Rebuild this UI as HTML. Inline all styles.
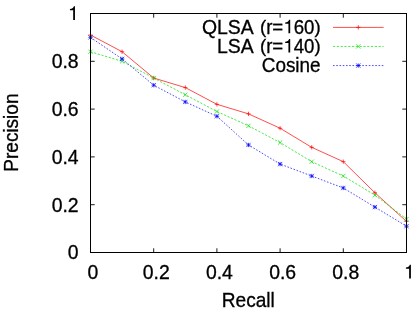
<!DOCTYPE html>
<html><head><meta charset="utf-8"><title>Precision-Recall</title>
<style>html,body{margin:0;padding:0;background:#fff;}svg{display:block;will-change:transform;}text{font-family:"Liberation Sans",sans-serif;fill:#000;stroke:#000;stroke-width:0.3px;}</style></head><body>
<svg width="415" height="313" viewBox="0 0 415 313">
<rect x="0" y="0" width="415" height="313" fill="#ffffff"/>
<path d="M90.50 252.5V248.3M90.50 13.5V17.7M90.5 252.50H94.7M406.5 252.50H402.3M153.70 252.5V248.3M153.70 13.5V17.7M90.5 204.70H94.7M406.5 204.70H402.3M216.90 252.5V248.3M216.90 13.5V17.7M90.5 156.90H94.7M406.5 156.90H402.3M280.10 252.5V248.3M280.10 13.5V17.7M90.5 109.10H94.7M406.5 109.10H402.3M343.30 252.5V248.3M343.30 13.5V17.7M90.5 61.30H94.7M406.5 61.30H402.3M406.50 252.5V248.3M406.50 13.5V17.7M90.5 13.50H94.7M406.5 13.50H402.3" stroke="#000" stroke-width="0.9" fill="none"/>
<polyline points="90.50,35.01 122.10,51.74 153.70,78.03 185.30,87.59 216.90,104.32 248.50,113.88 280.10,128.22 311.70,147.34 343.30,161.68 374.90,192.75 406.50,221.43" fill="none" stroke="#ff0000" stroke-width="0.7"/>
<polyline points="90.50,51.74 122.10,61.30 153.70,78.03 185.30,94.76 216.90,111.49 248.50,125.83 280.10,142.56 311.70,161.68 343.30,176.02 374.90,195.14 406.50,219.04" fill="none" stroke="#00e000" stroke-width="0.7" stroke-dasharray="2.2 1.6"/>
<polyline points="90.50,37.40 122.10,58.91 153.70,85.20 185.30,101.93 216.90,116.27 248.50,144.95 280.10,164.07 311.70,176.02 343.30,187.97 374.90,207.09 406.50,226.21" fill="none" stroke="#0000ff" stroke-width="0.7" stroke-dasharray="1.6 1.65"/>
<path d="M88.35 35.01H92.65M90.50 32.86V37.16" stroke="#ff0000" stroke-width="0.7" fill="none"/>
<path d="M119.95 51.74H124.25M122.10 49.59V53.89" stroke="#ff0000" stroke-width="0.7" fill="none"/>
<path d="M151.55 78.03H155.85M153.70 75.88V80.18" stroke="#ff0000" stroke-width="0.7" fill="none"/>
<path d="M183.15 87.59H187.45M185.30 85.44V89.74" stroke="#ff0000" stroke-width="0.7" fill="none"/>
<path d="M214.75 104.32H219.05M216.90 102.17V106.47" stroke="#ff0000" stroke-width="0.7" fill="none"/>
<path d="M246.35 113.88H250.65M248.50 111.73V116.03" stroke="#ff0000" stroke-width="0.7" fill="none"/>
<path d="M277.95 128.22H282.25M280.10 126.07V130.37" stroke="#ff0000" stroke-width="0.7" fill="none"/>
<path d="M309.55 147.34H313.85M311.70 145.19V149.49" stroke="#ff0000" stroke-width="0.7" fill="none"/>
<path d="M341.15 161.68H345.45M343.30 159.53V163.83" stroke="#ff0000" stroke-width="0.7" fill="none"/>
<path d="M372.75 192.75H377.05M374.90 190.60V194.90" stroke="#ff0000" stroke-width="0.7" fill="none"/>
<path d="M404.35 221.43H408.65M406.50 219.28V223.58" stroke="#ff0000" stroke-width="0.7" fill="none"/>
<path d="M88.35 49.59L92.65 53.89M88.35 53.89L92.65 49.59" stroke="#00e000" stroke-width="0.7" fill="none"/>
<path d="M119.95 59.15L124.25 63.45M119.95 63.45L124.25 59.15" stroke="#00e000" stroke-width="0.7" fill="none"/>
<path d="M151.55 75.88L155.85 80.18M151.55 80.18L155.85 75.88" stroke="#00e000" stroke-width="0.7" fill="none"/>
<path d="M183.15 92.61L187.45 96.91M183.15 96.91L187.45 92.61" stroke="#00e000" stroke-width="0.7" fill="none"/>
<path d="M214.75 109.34L219.05 113.64M214.75 113.64L219.05 109.34" stroke="#00e000" stroke-width="0.7" fill="none"/>
<path d="M246.35 123.68L250.65 127.98M246.35 127.98L250.65 123.68" stroke="#00e000" stroke-width="0.7" fill="none"/>
<path d="M277.95 140.41L282.25 144.71M277.95 144.71L282.25 140.41" stroke="#00e000" stroke-width="0.7" fill="none"/>
<path d="M309.55 159.53L313.85 163.83M309.55 163.83L313.85 159.53" stroke="#00e000" stroke-width="0.7" fill="none"/>
<path d="M341.15 173.87L345.45 178.17M341.15 178.17L345.45 173.87" stroke="#00e000" stroke-width="0.7" fill="none"/>
<path d="M372.75 192.99L377.05 197.29M372.75 197.29L377.05 192.99" stroke="#00e000" stroke-width="0.7" fill="none"/>
<path d="M404.35 216.89L408.65 221.19M404.35 221.19L408.65 216.89" stroke="#00e000" stroke-width="0.7" fill="none"/>
<path d="M88.35 37.40H92.65M90.50 35.25V39.55" stroke="#0000ff" stroke-width="0.7" fill="none"/><path d="M88.35 35.25L92.65 39.55M88.35 39.55L92.65 35.25" stroke="#0000ff" stroke-width="0.7" fill="none"/>
<path d="M119.95 58.91H124.25M122.10 56.76V61.06" stroke="#0000ff" stroke-width="0.7" fill="none"/><path d="M119.95 56.76L124.25 61.06M119.95 61.06L124.25 56.76" stroke="#0000ff" stroke-width="0.7" fill="none"/>
<path d="M151.55 85.20H155.85M153.70 83.05V87.35" stroke="#0000ff" stroke-width="0.7" fill="none"/><path d="M151.55 83.05L155.85 87.35M151.55 87.35L155.85 83.05" stroke="#0000ff" stroke-width="0.7" fill="none"/>
<path d="M183.15 101.93H187.45M185.30 99.78V104.08" stroke="#0000ff" stroke-width="0.7" fill="none"/><path d="M183.15 99.78L187.45 104.08M183.15 104.08L187.45 99.78" stroke="#0000ff" stroke-width="0.7" fill="none"/>
<path d="M214.75 116.27H219.05M216.90 114.12V118.42" stroke="#0000ff" stroke-width="0.7" fill="none"/><path d="M214.75 114.12L219.05 118.42M214.75 118.42L219.05 114.12" stroke="#0000ff" stroke-width="0.7" fill="none"/>
<path d="M246.35 144.95H250.65M248.50 142.80V147.10" stroke="#0000ff" stroke-width="0.7" fill="none"/><path d="M246.35 142.80L250.65 147.10M246.35 147.10L250.65 142.80" stroke="#0000ff" stroke-width="0.7" fill="none"/>
<path d="M277.95 164.07H282.25M280.10 161.92V166.22" stroke="#0000ff" stroke-width="0.7" fill="none"/><path d="M277.95 161.92L282.25 166.22M277.95 166.22L282.25 161.92" stroke="#0000ff" stroke-width="0.7" fill="none"/>
<path d="M309.55 176.02H313.85M311.70 173.87V178.17" stroke="#0000ff" stroke-width="0.7" fill="none"/><path d="M309.55 173.87L313.85 178.17M309.55 178.17L313.85 173.87" stroke="#0000ff" stroke-width="0.7" fill="none"/>
<path d="M341.15 187.97H345.45M343.30 185.82V190.12" stroke="#0000ff" stroke-width="0.7" fill="none"/><path d="M341.15 185.82L345.45 190.12M341.15 190.12L345.45 185.82" stroke="#0000ff" stroke-width="0.7" fill="none"/>
<path d="M372.75 207.09H377.05M374.90 204.94V209.24" stroke="#0000ff" stroke-width="0.7" fill="none"/><path d="M372.75 204.94L377.05 209.24M372.75 209.24L377.05 204.94" stroke="#0000ff" stroke-width="0.7" fill="none"/>
<path d="M404.35 226.21H408.65M406.50 224.06V228.36" stroke="#0000ff" stroke-width="0.7" fill="none"/><path d="M404.35 224.06L408.65 228.36M404.35 228.36L408.65 224.06" stroke="#0000ff" stroke-width="0.7" fill="none"/>
<path d="M333.0 27.4H383.6" stroke="#ff0000" stroke-width="0.7"/>
<path d="M333.0 46.45H383.6" stroke="#00e000" stroke-width="0.7" stroke-dasharray="2.2 1.6"/>
<path d="M333.0 65.55H383.6" stroke="#0000ff" stroke-width="0.7" stroke-dasharray="1.6 1.65"/>
<path d="M356.15 27.40H360.45M358.30 25.25V29.55" stroke="#ff0000" stroke-width="0.7" fill="none"/>
<path d="M356.15 44.30L360.45 48.60M356.15 48.60L360.45 44.30" stroke="#00e000" stroke-width="0.7" fill="none"/>
<path d="M356.15 65.55H360.45M358.30 63.40V67.70" stroke="#0000ff" stroke-width="0.7" fill="none"/><path d="M356.15 63.40L360.45 67.70M356.15 67.70L360.45 63.40" stroke="#0000ff" stroke-width="0.7" fill="none"/>
<text transform="translate(253.60,33.60) scale(1,1.05)" text-anchor="end" font-size="19.4">QLSA</text>
<text transform="translate(320.60,32.90) scale(0.962,0.95)" text-anchor="end" font-size="19.4">)</text>
<text transform="translate(314.39,33.60) scale(0.962,1.05)" text-anchor="end" font-size="19.4">60</text>
<path transform="translate(283.24,33.30) scale(0.0194,-0.01918)" d="M359 0H268V501H102V566C205 578 272 612 302 709H359Z" fill="#000"/>
<text transform="translate(283.26,33.60) scale(0.962,1.05)" text-anchor="end" font-size="19.4">r=</text>
<text transform="translate(266.14,32.90) scale(0.962,0.95)" text-anchor="end" font-size="19.4">(</text>
<text transform="translate(253.60,52.80) scale(1,1.05)" text-anchor="end" font-size="19.4">LSA</text>
<text transform="translate(320.60,52.10) scale(0.962,0.95)" text-anchor="end" font-size="19.4">)</text>
<text transform="translate(314.39,52.80) scale(0.962,1.05)" text-anchor="end" font-size="19.4">40</text>
<path transform="translate(283.24,52.50) scale(0.0194,-0.01918)" d="M359 0H268V501H102V566C205 578 272 612 302 709H359Z" fill="#000"/>
<text transform="translate(283.26,52.80) scale(0.962,1.05)" text-anchor="end" font-size="19.4">r=</text>
<text transform="translate(266.14,52.10) scale(0.962,0.95)" text-anchor="end" font-size="19.4">(</text>
<text transform="translate(320.60,71.90) scale(0.975,1.05)" text-anchor="end" font-size="19.4">Cosine</text>
<rect x="90.5" y="13.5" width="316.0" height="239.0" fill="none" stroke="#000" stroke-width="1"/>
<text transform="translate(78.60,259.40) scale(1,1.05)" text-anchor="end" font-size="19.4">0</text>
<text transform="translate(93.00,278.70) scale(1,1.05)" text-anchor="middle" font-size="19.4">0</text>
<text transform="translate(78.60,211.60) scale(1,1.05)" text-anchor="end" font-size="19.4">0.2</text>
<text transform="translate(156.20,278.70) scale(1,1.05)" text-anchor="middle" font-size="19.4">0.2</text>
<text transform="translate(78.60,163.80) scale(1,1.05)" text-anchor="end" font-size="19.4">0.4</text>
<text transform="translate(219.40,278.70) scale(1,1.05)" text-anchor="middle" font-size="19.4">0.4</text>
<text transform="translate(78.60,116.00) scale(1,1.05)" text-anchor="end" font-size="19.4">0.6</text>
<text transform="translate(282.60,278.70) scale(1,1.05)" text-anchor="middle" font-size="19.4">0.6</text>
<text transform="translate(78.60,68.20) scale(1,1.05)" text-anchor="end" font-size="19.4">0.8</text>
<text transform="translate(345.80,278.70) scale(1,1.05)" text-anchor="middle" font-size="19.4">0.8</text>
<path transform="translate(67.99,20.00) scale(0.0194,-0.01946)" d="M359 0H268V501H102V566C205 578 272 612 302 709H359Z" fill="#000"/>
<path transform="translate(403.94,278.50) scale(0.0194,-0.01946)" d="M359 0H268V501H102V566C205 578 272 612 302 709H359Z" fill="#000"/>
<text transform="translate(248.30,307.40) scale(0.985,1.03)" text-anchor="middle" font-size="19.4">Recall</text>
<text transform="translate(18.30,132.60) rotate(-90) scale(1,1.02)" text-anchor="middle" font-size="19.0">Precision</text>
</svg></body></html>
